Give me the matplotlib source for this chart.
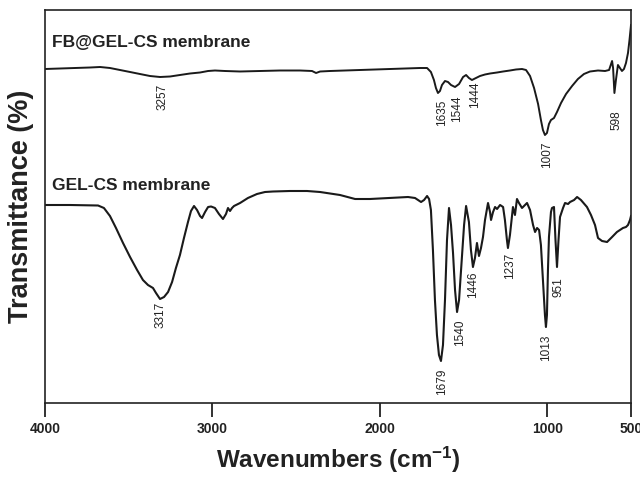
import matplotlib
matplotlib.use("Agg")
import matplotlib.pyplot as plt

plt.rcParams['font.family'] = ['Liberation Sans', 'DejaVu Sans']
plt.rcParams['mathtext.fontset'] = 'custom'
plt.rcParams['mathtext.rm'] = 'Liberation Sans'
plt.rcParams['mathtext.bf'] = 'Liberation Sans:bold'
plt.rcParams['mathtext.default'] = 'bf'

# FB@GEL-CS membrane spectrum (wavenumber cm-1, transmittance a.u.)
fb_wn = [4000, 3910, 3821, 3731, 3671, 3612, 3552, 3492, 3433, 3373,
         3313, 3253, 3194, 3134, 3074, 3026, 2985, 2925, 2835, 2716,
         2596, 2477, 2405, 2381, 2357, 2298, 2119, 1939, 1760, 1718,
         1695, 1677, 1665, 1653, 1641, 1629, 1611, 1593, 1575, 1551,
         1527, 1503, 1485, 1468, 1450, 1426, 1402, 1372, 1342, 1300,
         1264, 1223, 1187, 1151, 1127, 1103, 1079, 1055, 1038, 1026,
         1014, 1002, 990, 978, 960, 942, 918, 888, 852, 817,
         781, 745, 697, 655, 631, 619, 613, 607, 599, 590,
         578, 566, 554, 542, 530, 518, 509, 500]
fb_t = [334, 334.5, 335, 335.5, 336, 335, 333, 331, 329, 327,
        326, 326.5, 328, 329.5, 330.5, 332, 332.5, 332, 331.5, 332,
        332.5, 332.5, 332, 330, 331.5, 332, 333, 334, 335, 335,
        331, 323, 315, 310, 312, 318, 322, 321, 318, 316,
        319, 326, 328, 325, 323, 325, 327, 328.5, 329.5, 330.5,
        331.5, 332.5, 333.5, 334, 333, 327, 315, 299, 283, 273,
        268, 270, 279, 283, 285, 291, 300, 309, 317, 324,
        329, 331.5, 332.5, 332, 333, 339, 342, 335, 310, 323,
        338, 335, 332, 334, 340, 350, 363, 378]

# GEL-CS membrane spectrum
gc_wn = [4000, 3851, 3683, 3648, 3612, 3576, 3534, 3492, 3450, 3415,
         3385, 3355, 3337, 3313, 3289, 3265, 3241, 3218, 3194, 3170,
         3146, 3128, 3110, 3092, 3074, 3062, 3044, 3026, 3008, 2985,
         2961, 2937, 2919, 2907, 2895, 2883, 2871, 2835, 2788, 2734,
         2686, 2638, 2537, 2435, 2357, 2238, 2148, 2059, 1939, 1832,
         1790, 1754, 1736, 1718, 1706, 1695, 1683, 1671, 1659, 1647,
         1635, 1623, 1611, 1599, 1587, 1575, 1563, 1551, 1539, 1527,
         1515, 1497, 1485, 1468, 1456, 1444, 1432, 1420, 1408, 1396,
         1384, 1372, 1354, 1342, 1336, 1324, 1312, 1300, 1282, 1264,
         1253, 1241, 1235, 1223, 1211, 1205, 1193, 1181, 1169, 1151,
         1133, 1121, 1103, 1085, 1073, 1061, 1049, 1038, 1026, 1014,
         1008, 1002, 996, 990, 978, 972, 960, 951, 942, 933,
         924, 906, 894, 876, 864, 840, 822, 799, 763, 739,
         715, 697, 673, 643, 613, 584, 566, 548, 530, 518,
         506, 500]
gc_t = [198, 198, 197.5, 195, 187, 175, 160, 146, 133, 123,
        118, 115, 110, 104, 106, 111, 121, 135, 148, 165,
        181, 192, 197, 193, 187, 185, 191, 196, 196.5, 195,
        189, 184, 189, 195, 192, 195, 197, 200, 205, 209,
        211, 211.5, 212, 212, 211, 208, 204, 204, 205, 206,
        205, 201, 203, 207, 204, 193, 153, 103, 68, 48,
        42, 58, 103, 163, 195, 178, 150, 113, 91, 103,
        133, 178, 197, 181, 153, 136, 145, 160, 147, 155,
        166, 183, 200, 191, 183, 191, 196, 194, 198, 196,
        183, 163, 155, 168, 186, 196, 188, 204, 200, 195,
        198, 200, 193, 178, 171, 175, 173, 158, 123, 88,
        76, 88, 133, 166, 191, 195, 196, 163, 136, 163,
        186, 195, 200, 199, 201, 203, 206, 203, 196, 188,
        178, 165, 162, 161, 166, 171, 173, 175, 176, 178,
        183, 187]

# Peak annotations: label text, x position (cm-1), top of label (a.u.)
fb_peak_labels = ["3257", "1635", "1544", "1444", "1007", "598"]
fb_peak_x = [3301, 1631, 1539, 1432, 1002, 584]
fb_peak_y = [319, 303, 308, 321, 262, 293]

gc_peak_labels = ["3317", "1679", "1540", "1446", "1237", "1013", "951"]
gc_peak_x = [3307, 1629, 1521, 1444, 1223, 1008, 936]
gc_peak_y = [101, 34, 83, 131, 150, 68, 126]

series_names = ["FB@GEL-CS membrane", "GEL-CS membrane"]
series_name_y = [361, 218]

x_ticks = [4000, 3000, 2000, 1000, 500]

fig = plt.figure(figsize=(6.4, 4.78), dpi=100)
ax = fig.add_axes([45 / 640, 75 / 478, 586 / 640, 393 / 478])

line_color = '#1a1a1a'
ax.plot(fb_wn, fb_t, color=line_color, lw=1.4)
ax.plot(gc_wn, gc_t, color=line_color, lw=1.5)

ax.set_xlim(4000, 500)
ax.set_ylim(0, 393)

for txt, x, y in zip(fb_peak_labels, fb_peak_x, fb_peak_y):
    ax.text(x, y, txt, rotation=90, ha='center', va='top', fontsize=8.5,
            color='#222222')
for txt, x, y in zip(gc_peak_labels, gc_peak_x, gc_peak_y):
    ax.text(x, y, txt, rotation=90, ha='center', va='top', fontsize=8.5,
            color='#222222')

for name, y in zip(series_names, series_name_y):
    ax.text(3958, y, name, ha='left', va='center', fontsize=12.5,
            fontweight='bold', color='#222222')

ax.set_xticks(x_ticks)
ax.set_xticklabels([str(t) for t in x_ticks], fontweight='bold', fontsize=10)
ax.set_yticks([])
ax.tick_params(axis='x', direction='out', length=10, width=1.3, pad=4,
               colors='#222222')
for sp in ax.spines.values():
    sp.set_linewidth(1.2)
    sp.set_color('#222222')

ax.set_xlabel('Wavenumbers (cm$^{-1}$)', fontsize=17.5,
              fontweight='bold', labelpad=6, color='#222222')
ax.set_ylabel('Transmittance (%)', fontsize=19.5, fontweight='bold',
              labelpad=8, color='#222222')

fig.savefig('out.png', dpi=100)
